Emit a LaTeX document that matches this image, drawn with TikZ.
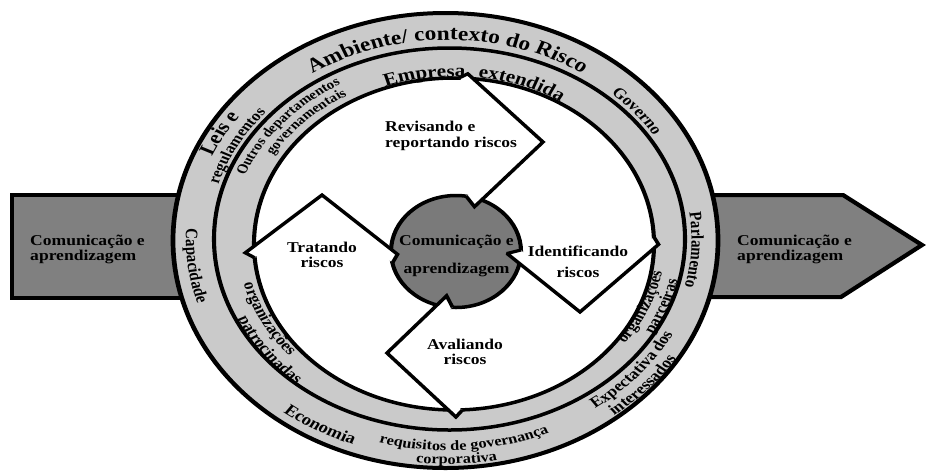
\documentclass[tikz,border=0pt]{standalone}
\usepackage{fontspec}
\setmainfont{Liberation Serif}
\usetikzlibrary{decorations.text,calc}
\definecolor{ringfill}{RGB}{202,202,202}
\definecolor{boxfill}{RGB}{128,128,128}
\definecolor{circfill}{RGB}{122,122,122}
\newcommand\ringtxt[8]{%
  \pgfmathsetmacro\RA{#3+1.17*(#5)}%
  \pgfmathsetmacro\RB{#4+(#5)}%
  \pgfmathsetmacro\TS{#6-(#7)*50}%
  \pgfmathsetmacro\TE{#6+(#7)*50}%
  \path[decorate,decoration={text along path,text align=center,text={#8}}]
    ($(#1,#2)+(\TS:{\RA} and {\RB})$) arc[start angle=\TS,end angle=\TE,x radius=\RA,y radius=\RB];
}
\newcommand\outerring[5]{\ringtxt{447.5}{240}{254}{209}{#1}{#2}{#3}{|\fontsize{#4}{#4}\selectfont\bfseries|#5}}
\newcommand\innerring[5]{\ringtxt{452}{241.5}{218.75}{178.5}{#1}{#2}{#3}{|\fontsize{#4}{#4}\selectfont\bfseries|#5}}
\begin{document}
\begin{tikzpicture}[x=1pt,y=-1pt]
\useasboundingbox (0,0) rectangle (926,472);
\begin{scope}[transform canvas={xscale=1.17}, x=0.854701pt, y=-1pt, line join=miter, miter limit=2,
  lbl/.style={inner sep=0pt, font=\fontsize{15}{15}\selectfont\bfseries}]
% side arrows
\draw[line width=4pt, fill=boxfill] (12,195) rectangle (300,298);
\draw[line width=4pt, fill=boxfill] (600,195) -- (843,195) -- (922,245) -- (841,297) -- (600,297) -- cycle;
% rings
\draw[line width=4pt, fill=ringfill] (445.5,240.5) ellipse [x radius=272.5, y radius=227.5];
\draw[line width=3.5pt] (449.5,239) ellipse [x radius=235.5, y radius=191];
\draw[line width=3.5pt, fill=white] (454,244) ellipse [x radius=200, y radius=166];
\draw[line width=3.5pt, fill=circfill] (456,251.5) ellipse [x radius=65, y radius=56];
% chevron coordinates
\coordinate (tEb) at (458.9,78);   \coordinate (tEt) at (467.8,73.8);
\coordinate (tV)  at (543,142);    \coordinate (tCt) at (474.5,206.7); \coordinate (tCb) at (466,196);
\coordinate (rEb) at (653.8,236.8); \coordinate (rEt) at (658.5,244.4);
\coordinate (rV)  at (580,312);    \coordinate (rCt) at (507,253.5);   \coordinate (rCb) at (521,250);
\coordinate (bEb) at (462.4,410);  \coordinate (bEt) at (455.9,417);
\coordinate (bV)  at (387,353);    \coordinate (bCt) at (446.6,295.8); \coordinate (bCb) at (452.6,307.4);
\coordinate (lEb) at (254.7,257.8); \coordinate (lEt) at (245.3,252.8);
\coordinate (lV)  at (322,195);    \coordinate (lCt) at (397.5,254.3); \coordinate (lCb) at (392.4,263);
\foreach \c in {t,r,b,l}{
  \fill[white] (\c Eb) -- (\c Et) -- (\c V) -- cycle;
  \fill[white] (\c V) -- (\c Ct) -- (\c Cb) -- cycle;
  \draw[line width=3.2pt] (\c Eb) -- (\c Et) -- (\c V) -- (\c Ct) -- (\c Cb);
}
% inner labels (base anchor = baseline of last line)
\node[lbl, anchor=base west, align=left] (leftlbl) at (30,260) {Comunicação e\\aprendizagem};
\node[lbl, anchor=base west, align=left] (rightlbl) at (737,260) {Comunicação e\\aprendizagem};
\node[lbl, font=\fontsize{15}{28}\selectfont\bfseries, anchor=base, align=center] (centerlbl) at (456.5,273) {Comunicação e\\aprendizagem};
\node[lbl, font=\fontsize{15}{16}\selectfont\bfseries, anchor=base west, align=left] (revis) at (385,147) {Revisando e\\reportando riscos};
\node[lbl, anchor=base, align=center] (trat) at (322,267) {Tratando\\riscos};
\node[lbl, font=\fontsize{15}{21}\selectfont\bfseries, anchor=base, align=center] (ident) at (578,277) {Identificando\\riscos};
\node[lbl, anchor=base, align=center] (aval) at (465,364) {Avaliando\\riscos};
% outer ring labels
\outerring{-9}{-90}{1}{20}{Ambiente/ contexto do Risco}
\outerring{2}{-151}{1}{19}{Leis e}
\outerring{-13}{-152}{1}{14.5}{regulamentos}
\outerring{6.5}{173}{-1}{15}{Capacidade}
\outerring{10}{120}{-1}{16}{Economia}
\outerring{1.5}{86}{-1}{14}{requisitos de governança}
\outerring{15}{88}{-1}{14}{corporativa}
\outerring{-1}{40}{-1}{15}{Expectativa dos}
\outerring{14}{41.5}{-1}{15}{interessados}
\outerring{-8.5}{2.8}{1}{15}{Parlamento}
\outerring{-10}{-39}{1}{15}{Governo}
% inner ring labels
\innerring{-14}{-97.9}{1}{18}{Empresa}
\innerring{-13}{-69.7}{1}{18}{extendida}
\innerring{3}{-140}{1}{13}{Outros departamentos}
\innerring{-9.5}{-135.6}{1}{13}{governamentais}
\innerring{-4.5}{22.5}{-1}{14.5}{organizações}
\innerring{10}{20.2}{-1}{14.5}{parceiras}
\innerring{-3.5}{153.2}{-1}{15}{organizações}
\innerring{13}{144.6}{-1}{15}{patrocinadas}
\end{scope}
\end{tikzpicture}
\end{document}
